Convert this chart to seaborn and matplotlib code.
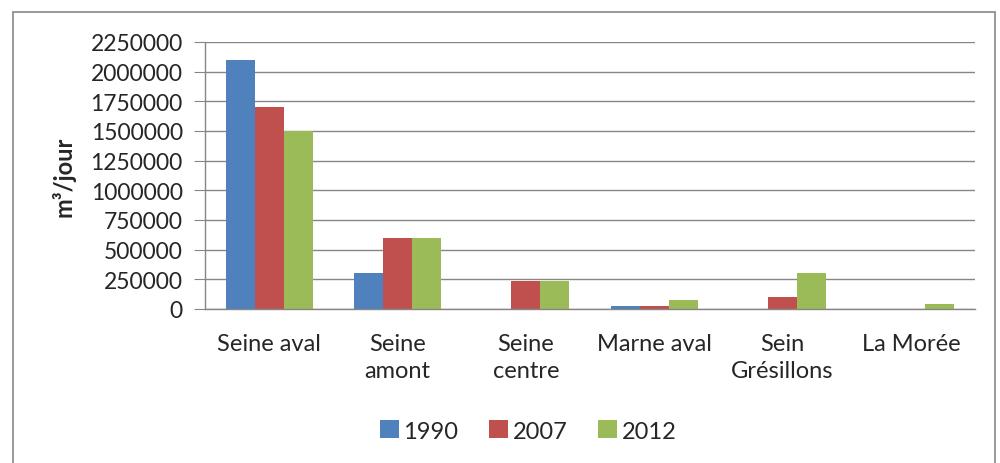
import pandas as pd
import numpy as np
import seaborn as sns
import matplotlib.pyplot as plt
from matplotlib.patches import Rectangle

# Data (m3/jour)
categories = ["Seine aval", "Seine\namont", "Seine\ncentre", "Marne aval", "Sein\nGrésillons", "La Morée"]
years = ["1990", "2007", "2012"]
v1990 = [2100000, 300000, 0, 25000, 0, 0]
v2007 = [1700000, 600000, 240000, 25000, 100000, 0]
v2012 = [1500000, 600000, 240000, 75000, 300000, 45000]
colors = ["#4F81BD", "#C0504D", "#9BBB59"]

df = pd.DataFrame({"site": categories, "1990": v1990, "2007": v2007, "2012": v2012})
df = df.melt(id_vars="site", var_name="annee", value_name="debit")

sns.set_style("white")
plt.rcParams['font.family'] = ['Lato', 'DejaVu Sans']

fig = plt.figure(figsize=(10, 4.64), dpi=100)
ax = fig.add_axes([0.205, 1 - 310 / 464, 0.77, 267 / 464])

sns.barplot(data=df, x="site", y="debit", hue="annee", hue_order=years,
            palette=colors, width=0.68, gap=0, saturation=1, ax=ax,
            edgecolor="none", linewidth=0)

grid = "#868686"
ax.set_ylim(0, 2250000)
ax.set_yticks(np.arange(0, 2250001, 250000))
ax.set_yticklabels([str(v) for v in range(0, 2250001, 250000)], fontsize=16.5)
ax.yaxis.grid(True, color=grid, linewidth=1)
ax.set_axisbelow(True)
ax.set_xlim(-0.5, len(categories) - 0.5)

ax.set_xlabel("")
ax.set_ylabel("m³/jour", fontsize=17, fontweight="bold", labelpad=11)

ax.tick_params(axis="x", which="major", length=0, labelsize=17, pad=17)
ax.set_xticks(np.arange(-0.5, len(categories)), minor=True)
ax.tick_params(axis="x", which="minor", length=8, color=grid, direction="out")
ax.tick_params(axis="y", length=8, color=grid, direction="out", left=True, pad=8)
for lab in ax.get_xticklabels():
    lab.set_linespacing(1.35)
    lab.set_verticalalignment("top")

for s in ["top", "right"]:
    ax.spines[s].set_visible(False)
for s in ["left", "bottom"]:
    ax.spines[s].set_color(grid)
    ax.spines[s].set_linewidth(1)

ax.legend(loc="center", bbox_to_anchor=(0.528, 1 - 432 / 464), bbox_transform=fig.transFigure,
          ncol=3, frameon=False, fontsize=17, handlelength=0.8, handleheight=0.8,
          handletextpad=0.2, columnspacing=1.3)

fig.patches.append(Rectangle((13 / 1000, -0.01), 982 / 1000, 1 - 13 / 464 + 0.01,
                             transform=fig.transFigure, fill=False,
                             edgecolor=grid, linewidth=1.2))

fig.savefig("out.png", dpi=100, facecolor="white")
